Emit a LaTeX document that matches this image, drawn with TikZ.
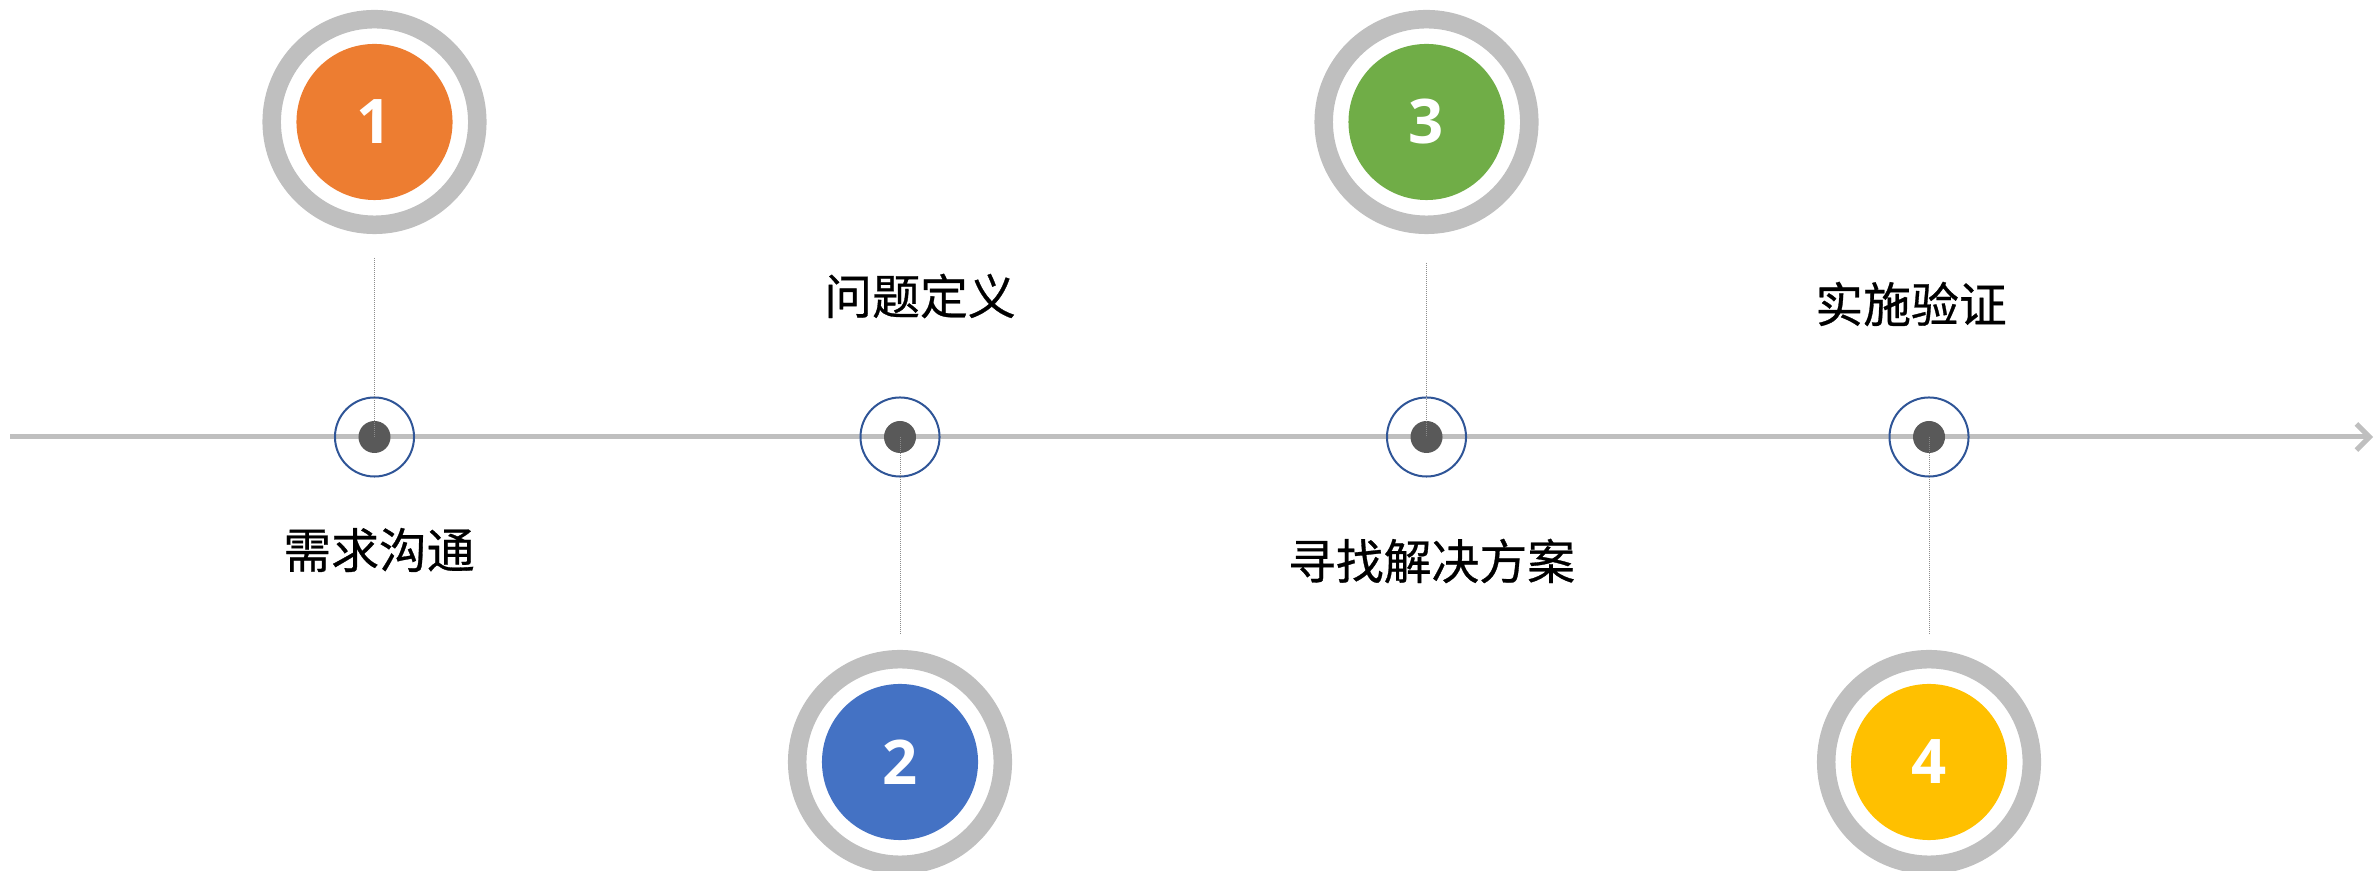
\documentclass[tikz,border=0pt]{standalone}
\usepackage{fontspec}
\setmainfont{Open Sans}
\newfontfamily\cjk[FakeBold=0.6]{Noto Sans CJK SC}
\usetikzlibrary{arrows.meta}
\definecolor{ringgray}{HTML}{BFBFBF}
\definecolor{lineblue}{HTML}{2F5597}
\definecolor{dotgray}{HTML}{595959}
\definecolor{stemgray}{HTML}{8C8C8C}
\definecolor{cOrange}{HTML}{ED7D31}
\definecolor{cBlue}{HTML}{4472C4}
\definecolor{cGreen}{HTML}{70AD47}
\definecolor{cYellow}{HTML}{FFC000}
\tikzset{
  ring/.style={circle, draw=ringgray, line width=0.185cm, minimum size=2.055cm, inner sep=0pt},
  disc/.style={circle, fill=#1, minimum size=1.56cm, inner sep=0pt, text=white,
    font=\fontsize{17.5pt}{20pt}\selectfont\bfseries},
  marker/.style={circle, draw=lineblue, line width=0.02cm, minimum size=0.79cm, inner sep=0pt},
  dot/.style={circle, fill=dotgray, minimum size=0.32cm, inner sep=0pt},
  stem/.style={draw=stemgray, line width=0.01cm, dash pattern=on 0.01cm off 0.01cm},
  axis/.style={draw=ringgray, line width=0.05cm, -{Straight Barb[length=0.13cm, width=0.26cm, line width=0.05cm]}},
  label/.style={font=\cjk\fontsize{13.6pt}{16pt}\selectfont, inner sep=0pt}
}
\begin{document}
\begin{tikzpicture}[x=0.01cm, y=-0.01cm]
\useasboundingbox (0,0) rectangle (2376,871);
% timeline
\coordinate (tstart) at (10,437);
\coordinate (tend) at (2373,437);
\draw[axis] (tstart) -- (tend);
% markers on the timeline
\node[marker] (m1) at (374.5,437) {};
\node[marker] (m2) at (900,437) {};
\node[marker] (m3) at (1426.5,437) {};
\node[marker] (m4) at (1929,437) {};
\node[dot] (d1) at (m1) {};
\node[dot] (d2) at (m2) {};
\node[dot] (d3) at (m3) {};
\node[dot] (d4) at (m4) {};
% stems
\coordinate (s1) at (374.5,258);
\coordinate (s2) at (900,634);
\coordinate (s3) at (1426.5,263);
\coordinate (s4) at (1929,634);
\draw[stem] (s1) -- (d1.center);
\draw[stem] (d2.center) -- (s2);
\draw[stem] (s3) -- (d3.center);
\draw[stem] (d4.center) -- (s4);
% big numbered circles
\node[ring] (r1) at (374.5,122) {};
\node[disc=cOrange] (n1) at (r1) {1};
\node[ring] (r2) at (900,762) {};
\node[disc=cBlue] (n2) at (r2) {2};
\node[ring] (r3) at (1426.5,122) {};
\node[disc=cGreen] (n3) at (r3) {3};
\node[ring] (r4) at (1929,762) {};
\node[disc=cYellow] (n4) at (r4) {4};
% labels
\node[label] (l1) at (379,550) {需求沟通};
\node[label] (l2) at (920,296) {问题定义};
\node[label] (l3) at (1431.5,561) {寻找解决方案};
\node[label] (l4) at (1911,304) {实施验证};
\end{tikzpicture}
\end{document}
